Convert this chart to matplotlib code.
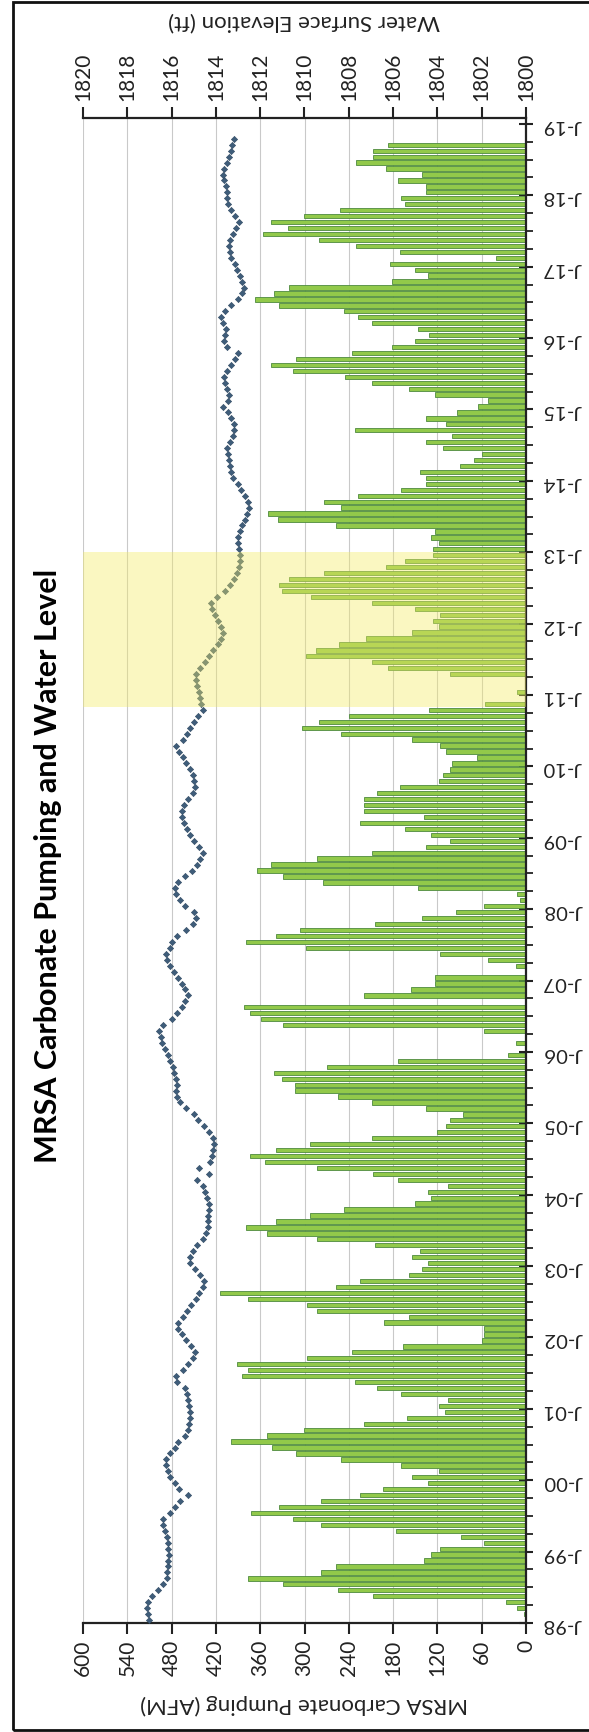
import matplotlib.pyplot as plt
from matplotlib.patches import Rectangle
import numpy as np

plt.rcParams['font.family'] = ['Lato', 'DejaVu Sans']

# monthly pumping, Jan 1998 .. Sep 2018 (AFM)
pumping_afm = [
    0, 3, 12, 27, 207, 255, 329, 377, 278, 258, 138, 128,          # 1998
    116, 57, 88, 176, 278, 316, 372, 334, 278, 225, 194, 133,      # 1999
    154, 118, 169, 250, 311, 344, 400, 351, 301, 220, 161, 110,    # 2000
    118, 105, 169, 202, 232, 384, 377, 392, 296, 235, 166, 60,     # 2001
    57, 57, 192, 159, 283, 296, 377, 415, 258, 225, 159, 141,      # 2002
    133, 154, 143, 204, 283, 351, 379, 339, 293, 247, 151, 128,    # 2003
    133, 105, 174, 207, 283, 354, 374, 339, 293, 209, 121, 108,    # 2004
    103, 85, 136, 209, 255, 313, 313, 331, 341, 270, 174, 24,      # 2005
    0, 14, 0, 57, 329, 359, 374, 382, 0, 220, 156, 123,            # 2006
    123, 0, 14, 52, 116, 298, 379, 339, 306, 204, 141, 95,         # 2007
    57, 8, 12, 146, 275, 329, 364, 346, 283, 209, 136, 103,        # 2008
    128, 164, 225, 138, 220, 220, 220, 202, 171, 118, 113, 103,    # 2009
    100, 67, 108, 116, 154, 250, 303, 280, 240, 131, 55, 1,        # 2010
    12, 2, 0, 103, 187, 209, 298, 285, 253, 217, 154, 118,         # 2011
    126, 116, 151, 209, 291, 331, 334, 321, 273, 189, 164, 126,    # 2012
    126, 118, 128, 123, 258, 336, 349, 250, 273, 227, 169, 136,    # 2013
    136, 143, 90, 70, 60, 113, 136, 100, 232, 108, 136, 93,        # 2014
    65, 52, 123, 159, 209, 245, 316, 346, 311, 235, 182, 151,      # 2015
    131, 146, 209, 227, 247, 334, 367, 341, 321, 182, 133, 151,    # 2016
    184, 40, 171, 230, 280, 356, 323, 346, 301, 252, 164, 169,     # 2017
    136, 136, 174, 141, 189, 230, 207, 207, 187,                   # 2018
]

# monthly water surface elevation, Jan 1998 .. Oct 2018 (ft)
water_level_ft = [
    1817.0, 1817.05, 1817.1, 1817.08, 1816.9, 1816.62, 1816.38, 1816.2, 1816.2, 1816.18, 1816.15, 1816.11,
    1816.15, 1816.18, 1816.22, 1816.3, 1816.37, 1816.37, 1816.08, 1815.83, 1815.6, 1815.27, 1815.65, 1815.85,
    1816.05, 1816.15, 1816.25, 1816.25, 1816.05, 1815.83, 1815.69, 1815.38, 1815.28, 1815.2, 1815.18, 1815.18,
    1815.2, 1815.25, 1815.3, 1815.38, 1815.75, 1815.8, 1815.5, 1815.25, 1815.05, 1814.93, 1815.12, 1815.35,
    1815.55, 1815.69, 1815.7, 1815.5, 1815.3, 1815.12, 1814.9, 1814.75, 1814.6, 1814.52, 1814.7, 1814.95,
    1815.15, 1815.15, 1815.05, 1814.85, 1814.6, 1814.45, 1814.37, 1814.36, 1814.34, 1814.3, 1814.3, 1814.4,
    1814.5, 1814.6, 1814.85, 1814.3, 1814.75, 1814.25, 1814.18, 1814.12, 1814.08, 1814.15, 1814.3, 1814.55,
    1814.8, 1815.0, 1815.35, 1815.6, 1815.75, 1815.78, 1815.77, 1815.8, 1815.88, 1815.95, 1816.05, 1816.18,
    1816.3, 1816.42, 1816.5, 1816.57, 1816.4, 1816.0, 1815.75, 1815.52, 1815.38, 1815.28, 1815.38, 1815.54,
    1815.72, 1815.9, 1816.08, 1816.22, 1816.25, 1816.08, 1816.0, 1815.75, 1815.35, 1815.05, 1814.88, 1815.0,
    1815.4, 1815.62, 1815.78, 1815.85, 1815.7, 1815.38, 1815.1, 1814.85, 1814.7, 1814.59, 1814.75, 1815.0,
    1815.15, 1815.32, 1815.45, 1815.54, 1815.55, 1815.42, 1815.25, 1815.05, 1814.96, 1815.0, 1815.05, 1815.18,
    1815.35, 1815.5, 1815.68, 1815.8, 1815.5, 1815.3, 1815.15, 1814.98, 1814.8, 1814.6, 1814.66, 1814.72,
    1814.78, 1814.85, 1814.92, 1814.9, 1814.72, 1814.5, 1814.3, 1814.12, 1813.9, 1813.76, 1813.68, 1813.78,
    1813.9, 1814.05, 1814.18, 1814.22, 1813.95, 1813.6, 1813.38, 1813.2, 1813.05, 1812.95, 1812.9, 1812.9,
    1812.95, 1813.02, 1813.0, 1812.92, 1812.8, 1812.68, 1812.6, 1812.52, 1812.56, 1812.68, 1812.85, 1813.0,
    1813.22, 1813.3, 1813.38, 1813.43, 1813.47, 1813.48, 1813.38, 1813.25, 1813.17, 1813.2, 1813.3, 1813.45,
    1813.7, 1813.45, 1813.4, 1813.48, 1813.6, 1813.65, 1813.5, 1813.3, 1813.12, 1813.0, 1813.5, 1813.62,
    1813.58, 1813.55, 1813.68, 1813.75, 1813.6, 1813.3, 1813.0, 1812.8, 1812.72, 1812.8, 1812.92, 1813.05,
    1813.16, 1813.3, 1813.38, 1813.41, 1813.36, 1813.22, 1813.08, 1812.95, 1813.12, 1813.33, 1813.45, 1813.49,
    1813.5, 1813.56, 1813.62, 1813.66, 1813.63, 1813.5, 1813.4, 1813.34, 1813.26, 1813.18,
]

year_labels = ['J-%02d' % (y % 100) for y in range(1998, 2020)]
pumping_ticks = list(range(0, 601, 60))
elevation_ticks = list(range(1800, 1821, 2))
highlight_start, highlight_end = 154, 180   # months since Jan 1998 (Nov 2010 .. Jan 2013)

fig = plt.figure(figsize=(5.89, 17.32), dpi=100)
ax = fig.add_axes([83 / 589, 1 - 1623 / 1732, 443 / 589, 1505 / 1732])

pm = np.arange(len(pumping_afm)) + 0.5
ax.barh(pm, pumping_afm, height=0.72, color='#92C94A', edgecolor='#4E8A3E',
        linewidth=0.6, zorder=2)
ax.set_xlim(600, 0)
ax.set_ylim(0, 253)
ax.set_xticks(pumping_ticks)
ax.grid(axis='x', color='#C9C9C9', lw=0.8)
ax.set_axisbelow(True)

ax.yaxis.tick_right()
ax.set_yticks(range(0, 253, 12))
ax.set_yticklabels(year_labels)
ax.set_yticks(range(0, 253, 3), minor=True)
ax.tick_params(axis='y', which='major', direction='inout', length=10, width=1.5,
               labelrotation=180, labelsize=14.5, pad=7, colors='#222222')
ax.tick_params(axis='y', which='minor', direction='out', length=5, width=1.3,
               colors='#222222')
ax.tick_params(axis='x', direction='out', length=8, width=1.5, labelrotation=90,
               labelsize=15, pad=4, colors='#222222')

for s in ['left', 'top']:
    ax.spines[s].set_visible(False)
for s in ['bottom', 'right']:
    ax.spines[s].set_linewidth(1.6)
    ax.spines[s].set_color('#222222')

ax2 = ax.twiny()
wm = np.arange(len(water_level_ft)) + 0.5
ax2.plot(water_level_ft, wm, 'D', ms=3.2, color='#3F5D7A', mec='#2E4760',
         mew=0.4, zorder=3)
ax2.set_xlim(1820, 1800)
ax2.set_xticks(elevation_ticks)
ax2.tick_params(axis='x', direction='out', length=8, width=1.5, labelrotation=90,
                labelsize=15, pad=4, colors='#222222')
for s in ['left', 'right', 'bottom']:
    ax2.spines[s].set_visible(False)
ax2.spines['top'].set_linewidth(1.6)
ax2.spines['top'].set_color('#222222')

ax2.axhspan(highlight_start, highlight_end, facecolor='#F3EB66', alpha=0.4,
            lw=0, zorder=10)

fig.text(304 / 589, 1 - 1704 / 1732, 'MRSA Carbonate Pumping (AFM)', rotation=180,
         ha='center', va='center', fontsize=16, color='#222222')
fig.text(304 / 589, 1 - 21 / 1732, 'Water Surface Elevation (ft)', rotation=180,
         ha='center', va='center', fontsize=16, color='#222222')
fig.text(48 / 589, 1 - 866 / 1732, 'MRSA Carbonate Pumping and Water Level',
         rotation=90, ha='center', va='center', fontsize=22, fontweight='bold')

fig.add_artist(Rectangle((13 / 589, 2 / 1732), 1.0, 1 - 4 / 1732,
                         transform=fig.transFigure, fill=False, lw=2,
                         edgecolor='#111111'))

plt.savefig('out.png', dpi=100)
